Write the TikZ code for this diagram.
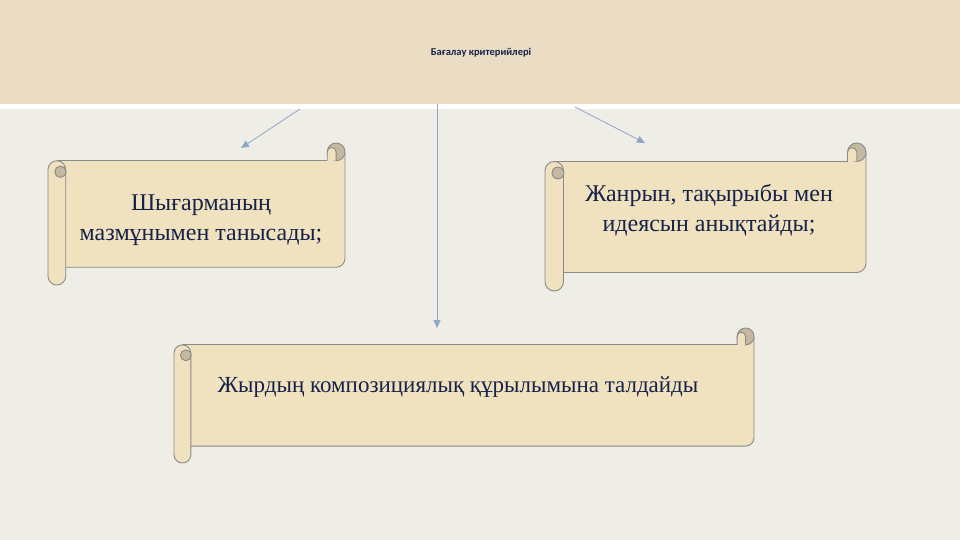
\documentclass[tikz,border=0pt]{standalone}
\usepackage{fontspec}
\setmainfont{Liberation Serif}
\newfontfamily\titlefont{Carlito}
\usetikzlibrary{arrows.meta}
\definecolor{headbg}{HTML}{EBDDC3}
\definecolor{pagebg}{HTML}{EEEDE6}
\definecolor{scrollfill}{HTML}{F0E1BF}
\definecolor{scrollroll}{HTML}{C4B8A0}
\definecolor{scrolledge}{HTML}{8A8A8A}
\definecolor{inkblue}{HTML}{16224A}
\definecolor{linkblue}{HTML}{8EA8CA}

\tikzset{
  scrollline/.style={draw=scrolledge, line width=0.9pt, line join=round},
  scrolltext/.style={text=inkblue, font=\fontsize{24}{30}\selectfont, align=center, inner sep=0pt},
  titletext/.style={text=inkblue, font=\titlefont\bfseries\fontsize{10.5}{12}\selectfont},
  link/.style={draw=linkblue, line width=0.8pt, -{Triangle[length=8pt,width=7pt]}},
}

% scroll with bounding box left, top, right, bottom
\newcommand{\drawscroll}[4]{%
  \pgfmathsetmacro{\scrch}{0.125*(#4-#2)}%
  \pgfmathsetmacro{\scrhh}{\scrch/2}%
  \pgfmathsetmacro{\scrhq}{\scrch/4}%
  \fill[scrollfill] (#1+\scrhh,#2+\scrch) -- (#3-\scrhh,#2+\scrch) -- (#3-\scrhh,#2+\scrhh) -- (#3,#2+\scrhh)
    -- (#3,#4-\scrch-\scrhh) arc[start angle=0,end angle=90,radius=\scrhh] -- (#1+\scrch,#4-\scrch) -- cycle;
  \draw[scrollline] (#1+\scrhh,#2+\scrch) -- (#3-\scrch,#2+\scrch);
  \draw[scrollline] (#3,#2+\scrhh) -- (#3,#4-\scrch-\scrhh) arc[start angle=0,end angle=90,radius=\scrhh] -- (#1+\scrch,#4-\scrch);
  % right roll
  \draw[scrollline, fill=scrollroll] (#3-\scrhh,#2+\scrhh) circle[radius=\scrhh];
  \draw[scrollline, fill=scrollfill] (#3-\scrch,#2+\scrch) -- (#3-\scrch,#2+\scrhh) arc[start angle=180,end angle=360,radius=\scrhq] -- (#3-\scrhh,#2+\scrch);
  % left roll
  \draw[scrollline, fill=scrollfill] (#1,#2+\scrch+\scrhh) arc[start angle=180,end angle=360,radius=\scrhh] -- (#1+\scrch,#4-\scrhh) arc[start angle=0,end angle=180,radius=\scrhh] -- cycle;
  \draw[scrollline, fill=scrollroll] (#1+0.7*\scrch,#2+1.62*\scrch) circle[radius=0.32*\scrch];
}

\begin{document}
\begin{tikzpicture}[x=1pt,y=-1pt]
  \useasboundingbox (0,0) rectangle (960,540);
  \fill[pagebg] (0,0) rectangle (960,540);
  \fill[headbg] (0,0) rectangle (960,104);
  \fill[white] (0,104) rectangle (960,109);
  \node[titletext] (title) at (481,53) {Бағалау критерийлері};

  % scrolls
  \drawscroll{48}{143}{345}{285}
  \drawscroll{545}{143}{866}{291}
  \drawscroll{174}{328}{754}{463}
  \node[scrolltext] (content) at (201,220) {Шығарманың\\мазмұнымен танысады;};
  \node[scrolltext] (genre) at (709,210) {Жанрын, тақырыбы мен\\идеясын анықтайды;};
  \node[scrolltext, font=\fontsize{23}{28}\selectfont] (structure) at (458,387) {Жырдың композициялық құрылымына талдайды};

  % connectors
  \coordinate (lstart) at (300,109);
  \coordinate (lend) at (241,148);
  \coordinate (mstart) at (437,104);
  \coordinate (mend) at (437,328);
  \coordinate (rstart) at (575,107);
  \coordinate (rend) at (645,143);
  \draw[link] (lstart) -- (lend);
  \draw[link] (mstart) -- (mend);
  \draw[link] (rstart) -- (rend);
\end{tikzpicture}
\end{document}
